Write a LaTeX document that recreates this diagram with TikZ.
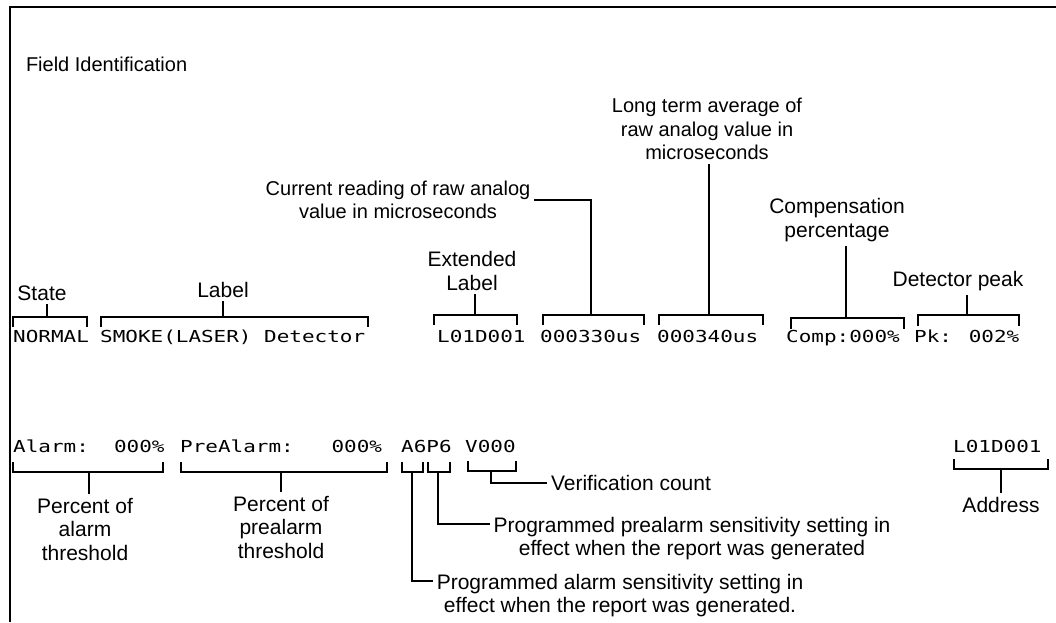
\documentclass[tikz,border=0pt]{standalone}
\usepackage{fontspec}
\setmainfont{Liberation Sans}
\newfontfamily\lcdfont[FakeStretch=1.27]{DejaVu Sans Mono}
\usetikzlibrary{positioning,calc}
\tikzset{
  note/.style={inner sep=0pt, outer sep=4pt, align=center, font=\fontsize{21}{23.5}\selectfont},
  hint/.style={note, font=\fontsize{20}{23.5}\selectfont},
  lcd/.style={inner sep=0pt, anchor=base west, font=\lcdfont\fontsize{16.5}{18}\selectfont},
  brk/.style={line width=1.3pt},
  lead/.style={line width=1.8pt},
  frame/.style={line width=2.6pt},
}

\begin{document}
\begin{tikzpicture}[x=1pt, y=-1pt]
    \useasboundingbox (0,0) rectangle (1056,622);
    \draw[frame] (10,622) -- (10,7) -- (1056,7);
    \node[hint, anchor=west] (fid) at (22,64) {Field Identification};

    % first report line
    \node[lcd] (nrm) at (13,342) {NORMAL};
    \node[lcd] (smk) at (100,342) {SMOKE(LASER) Detector};
    \node[lcd] (ext) at (437,342) {L01D001};
    \node[lcd] (cur) at (540,342) {000330us};
    \node[lcd] (avg) at (657,342) {000340us};
    \node[lcd] (cmp) at (786,342) {Comp:000\%};
    \node[lcd] (pk) at (914,342) {Pk: 002\%};

    \node[note, anchor=base] (stn) at (42,300) {State};
    \node[note, anchor=base] (lbn) at (223,297) {Label};
    \node[note] (extn) at (472,271) {Extended\\Label};
    \node[hint] (curn) at (398,200) {Current reading of raw analog\\value in microseconds};
    \node[hint] (avgn) at (707,129) {Long term average of\\raw analog value in\\microseconds};
    \node[note] (cmpn) at (837,220) {Compensation\\percentage};
    \node[note] (pkn) at (958,281) {Detector peak};

    \draw[brk] (13,327) |- (87,317) -- (87,327);
    \draw[brk] (101,327) |- (368,317) -- (368,327);
    \draw[brk] (434,325) |- (517,315) -- (517,325);
    \draw[brk] (543,325) |- (644,315) -- (644,325);
    \draw[brk] (659,325) |- (763,315) -- (763,325);
    \draw[brk] (791,329) |- (904,318) -- (904,329);
    \draw[brk] (918,326) |- (1019,315) -- (1019,326);

    \coordinate (stB) at (47,317);
    \coordinate (lbB) at (223,317);
    \coordinate (extB) at (475,315);
    \coordinate (curB) at (591,315);
    \coordinate (avgB) at (709,315);
    \coordinate (cmpB) at (846,318);
    \coordinate (pkB) at (967,315);
    \draw[lead] (stB) -- (stB |- stn.south);
    \draw[lead] (lbB) -- (lbB |- lbn.south);
    \draw[lead] (extB) -- (extB |- extn.south);
    \draw[lead] (curB) |- (curn.east);
    \draw[lead] (avgB) -- (avgB |- avgn.south);
    \draw[lead] (cmpB) -- (cmpB |- cmpn.south);
    \draw[lead] (pkB) -- (pkB |- pkn.south);

    % second report line
    \node[lcd] (alm) at (13,452) {Alarm:~~000\%};
    \node[lcd] (pre) at (180,452) {PreAlarm:~~~000\%};
    \node[lcd] (sens) at (401,452) {A6P6};
    \node[lcd] (ver) at (465,452) {V000};
    \node[lcd] (addr) at (953,452) {L01D001};

    \node[note, anchor=north] (almn) at (85,494) {Percent of\\alarm\\threshold};
    \node[note, anchor=north] (pren) at (281,492) {Percent of\\prealarm\\threshold};
    \node[note, anchor=west] (vern) at (547,483) {Verification count};
    \node[note, anchor=north] (p6n) at (692,513) {Programmed prealarm sensitivity setting in\\effect when the report was generated};
    \node[note, anchor=north] (a6n) at (620,570) {Programmed alarm sensitivity setting in\\effect when the report was generated.};
    \node[note, anchor=north] (addrn) at (1001,493) {Address};

    \draw[brk] (13,462) |- (163,472) -- (163,462);
    \draw[brk] (181,462) |- (387,472) -- (387,462);
    \draw[brk] (402,462) |- (423,472) -- (423,462);
    \draw[brk] (428,462) |- (450,472) -- (450,462);
    \draw[brk] (468,461) |- (516,471) -- (516,461);
    \draw[brk] (954,459) |- (1048,469) -- (1048,459);

    \coordinate (almB) at (89,472);
    \coordinate (preB) at (281,472);
    \coordinate (a6B) at (412,472);
    \coordinate (p6B) at (438,472);
    \coordinate (verB) at (491,471);
    \coordinate (addrB) at (1001,469);
    \draw[lead] (almB) -- (almB |- almn.north);
    \draw[lead] (preB) -- (preB |- pren.north);
    \draw[lead] (a6B) |- ([yshift=-11pt]a6n.north west);
    \draw[lead] (p6B) |- ([yshift=-11pt]p6n.north west);
    \draw[lead] (verB) |- (vern.west);
    \draw[lead] (addrB) -- (addrB |- addrn.north);
\end{tikzpicture}
\end{document}
